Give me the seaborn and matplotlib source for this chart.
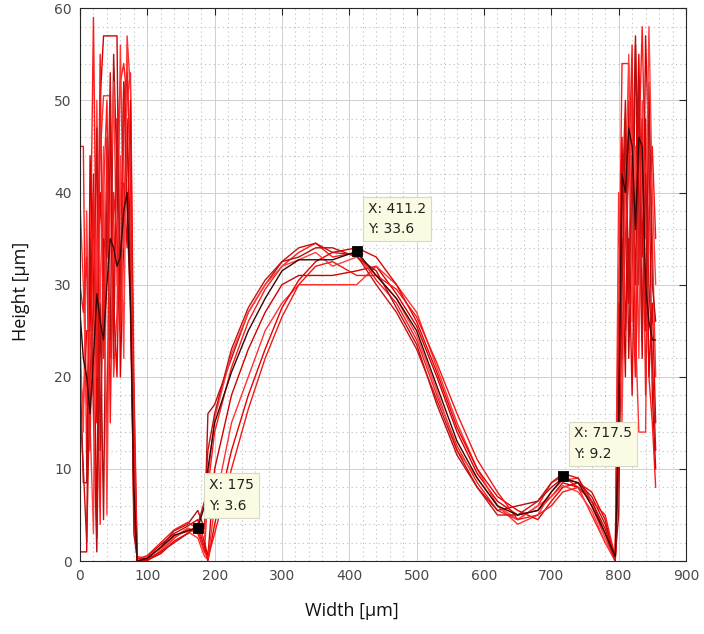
import matplotlib
matplotlib.use("Agg")
import matplotlib.pyplot as plt
from matplotlib.ticker import MultipleLocator
import pandas as pd
import seaborn as sns

# sampling positions along the profile [um]
width = [0, 5, 10, 15, 20, 25, 30, 35, 40, 45, 50, 55, 60, 65, 70, 75, 80, 85,
         100, 120, 140, 160, 175, 185, 190, 200, 225, 250, 275, 300, 325, 350, 375, 411,
         440, 470, 500, 530, 560, 590, 620, 650, 680, 700, 717, 740, 760, 780,
         795, 800, 805, 810, 815, 820, 825, 830, 835, 840, 845, 850, 855]

# measured heights [um], one list per scan
scan_1 = [45, 45, 10, 30, 59, 25, 4, 40, 50, 22, 30, 45, 52, 54, 50, 53, 20, 0.5,
          0.2, 1.0, 2.5, 3.5, 3.0, 1.0, 8, 14, 21, 26, 29.5, 32, 33.5, 34.5, 33, 33.5,
          30.5, 28, 24, 18, 12.5, 8.5, 5.5, 4.5, 6, 8.5, 9.2, 8, 5, 2,
          0, 25, 54, 54, 54, 30, 20, 45, 58, 40, 20, 15, 8]
scan_2 = [1, 1, 1, 44, 30, 2.5, 50, 57, 57, 57, 57, 57, 20, 35, 48, 30, 5, 0,
          0.5, 1.8, 3.0, 3.8, 4.5, 2, 0.5, 10, 18, 23, 27, 30, 31, 31, 31, 31.5,
          32, 29, 25.5, 20, 14, 9.5, 6.5, 5, 5.5, 7, 8.5, 8, 6.5, 3.5,
          0.3, 10, 35, 20, 50, 28, 56, 40, 22, 57, 44, 18, 10]
scan_3 = [39, 30, 17, 25, 18, 35, 44, 50.5, 50.5, 50.5, 20, 27, 56, 34, 57, 51, 12, 0,
          0, 1.2, 2.8, 3.2, 2.5, 0.5, 0.2, 6, 15, 20, 25, 28, 30, 30, 30, 30,
          32, 30, 27, 21, 15, 10, 6, 4, 5, 7.5, 8.8, 9, 6, 2.5,
          0, 40, 20, 45, 30, 52, 25, 14, 14, 14, 50, 35, 20]
scan_4 = [22, 8.5, 8.5, 35, 16, 1, 28, 4.5, 40, 24, 55, 42, 25, 52, 46, 35, 3, 0.3,
          0.3, 1.5, 3.3, 4.0, 5.5, 3.5, 16, 17, 22, 27, 30, 32.5, 33, 34, 34, 33,
          31.5, 27.5, 23.5, 17, 11.5, 8, 5.5, 6, 6.5, 8, 9, 8.5, 7, 4,
          0.5, 5, 30, 48, 22, 38, 57, 30, 45, 25, 52, 30, 26]
scan_5 = [20, 17, 25, 25, 42, 15, 40, 32, 12, 48, 28, 20, 41, 41, 34, 50, 15, 0,
          0.1, 0.8, 2.2, 3.0, 3.8, 1.5, 0.0, 4, 12, 18, 23, 27.5, 30.5, 32.5, 33.5, 34,
          33, 30, 26, 20.5, 14.5, 10, 7, 5.5, 4.5, 6.5, 8, 8.5, 7.5, 4.5,
          0, 20, 46, 25, 35, 18, 40, 55, 33, 48, 20, 28, 15]
scan_6 = [24, 14, 38, 15, 3, 50, 28, 45, 5, 38, 52, 30, 44, 22, 55, 40, 9, 0.4,
          0.4, 1.4, 2.6, 3.6, 3.2, 2.5, 9, 15.5, 22.5, 27, 30, 32, 32.7, 33.5, 32, 33,
          31, 28.5, 24.5, 18.5, 12, 9, 6, 4.5, 6, 7, 8.2, 7.5, 5.5, 2,
          0.2, 32, 15, 40, 55, 26, 45, 22, 50, 35, 58, 40, 30]
scan_7 = [17, 10, 2, 20, 28, 47, 12, 35, 33, 53, 22, 48, 30, 52, 38, 27, 6, 0,
          0.2, 1.0, 2.0, 3.0, 4.0, 6.5, 12, 16, 23, 27.5, 30.5, 32.5, 34, 34.5, 33.5, 33.2,
          30, 27, 23, 17.5, 12, 8, 5, 5, 6.5, 8.5, 9.5, 9, 6.5, 3,
          0, 12, 38, 50, 28, 44, 30, 52, 24, 42, 30, 22, 12]
scan_8 = [30, 27, 33, 12, 40, 20, 55, 22, 46, 15, 40, 35, 25, 48, 53, 42, 18, 0.2,
          0.6, 2.0, 3.4, 4.2, 3.5, 1.0, 0.3, 3, 10, 16.5, 22, 26.5, 30, 32, 32.5, 31,
          31, 29.5, 26.5, 21.5, 16, 11, 7.5, 4.5, 5, 6, 7.5, 8, 6.5, 5,
          0.4, 28, 22, 35, 42, 56, 20, 36, 48, 18, 38, 45, 35]
scan_mean = [27, 22, 20, 16, 22, 29, 26, 24, 30, 35, 34, 32, 33, 38, 40, 28, 8, 0,
             0.3, 1.5, 2.8, 3.3, 3.6, 6, 10, 15, 20.5, 25, 28.5, 31.5, 32.7, 32.7, 32.7, 33.6,
             31, 28.5, 25, 19, 13, 9, 6, 5, 5.5, 7.5, 9, 8.5, 6, 3,
             0.5, 15, 42, 40, 47, 45, 36, 46, 45, 30, 26, 24, 24]

# data tips
tip_x = [175, 411.2, 717.5]
tip_y = [3.6, 33.6, 9.2]

scans = [scan_1, scan_2, scan_3, scan_4, scan_5, scan_6, scan_7, scan_8, scan_mean]
colors = ["#ff1a1a", "#d40000", "#ff3030", "#b01010", "#e60000",
          "#ff4040", "#c81010", "#f01818", "#3a0505"]

rows = []
for i, s in enumerate(scans):
    for x, y in zip(width, s):
        rows.append({"scan": f"s{i}", "width": x, "height": y})
df = pd.DataFrame(rows)

sns.set_style("white")
plt.rcParams["font.family"] = ["DejaVu Sans"]

fig = plt.figure(figsize=(7.04, 6.34), dpi=100)
ax = fig.add_axes([0.1136, 0.115, 0.8608, 0.872])

sns.lineplot(data=df, x="width", y="height", hue="scan", palette=colors,
             estimator=None, sort=False, legend=False, linewidth=1.0, ax=ax)
sns.scatterplot(x=tip_x, y=tip_y, marker="s", color="black", s=55,
                edgecolor="black", zorder=5, ax=ax)

for x, y in zip(tip_x, tip_y):
    ax.annotate(f"X: {x:g}\nY: {y:g}", xy=(x, y), xytext=(8, 11),
                textcoords="offset points", ha="left", va="bottom",
                fontsize=10, color="#222222", linespacing=1.6,
                bbox=dict(boxstyle="square,pad=0.35", fc="#fbfbe4", ec="#d8d8c8", lw=0.8),
                zorder=6)

ax.set_xlim(0, 900)
ax.set_ylim(0, 60)
ax.xaxis.set_major_locator(MultipleLocator(100))
ax.yaxis.set_major_locator(MultipleLocator(10))
ax.xaxis.set_minor_locator(MultipleLocator(20))
ax.yaxis.set_minor_locator(MultipleLocator(2))
ax.grid(which="major", color="#cfcfcf", linewidth=0.7)
ax.grid(which="minor", color="#bdbdbd", linestyle=(0, (1, 3)), linewidth=0.8)
ax.set_axisbelow(True)
ax.tick_params(which="major", direction="in", length=5, width=0.8,
               top=True, right=True, labelsize=10, labelcolor="#4a4a4a",
               color="#262626", pad=6)
ax.tick_params(which="minor", length=0)
for sp in ax.spines.values():
    sp.set_color("#262626")
    sp.set_linewidth(0.8)
ax.set_xlabel("")
ax.set_ylabel("")

fig.text(0.5, 0.022, "Width [µm]", ha="center", va="bottom",
         fontsize=13, family="Open Sans", color="#111111")
fig.text(0.03, 0.54, "Height [µm]", ha="center", va="center", rotation=90,
         fontsize=13, family="Open Sans", color="#111111")

fig.savefig("out.png", dpi=100)
